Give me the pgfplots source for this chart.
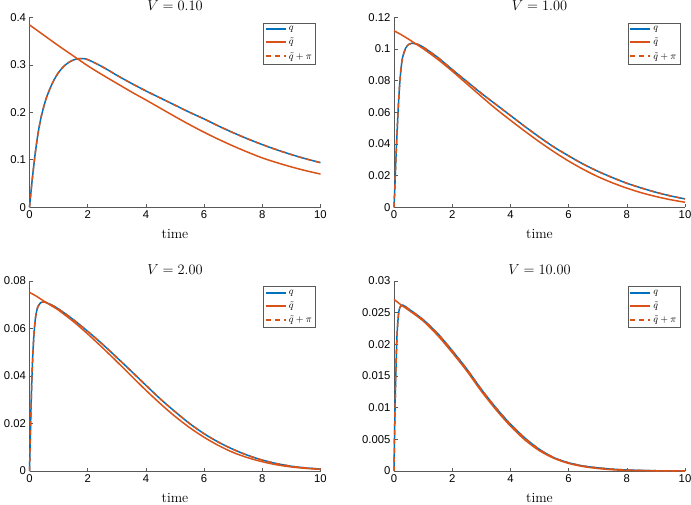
\documentclass[border=0pt]{standalone}
\usepackage{fontspec}
\setsansfont{Liberation Sans}
\usepackage{pgfplots}
\usepackage{pgfplotstable}
\pgfplotsset{compat=1.18}

\definecolor{mblue}{RGB}{0,114,189}
\definecolor{morange}{RGB}{217,83,25}

% V = 0.10
\pgfplotstableread{
t v
0 0
0.05 0.032
0.1 0.062
0.2 0.115
0.3 0.158
0.4 0.190
0.5 0.214
0.6 0.234
0.8 0.263
1.0 0.284
1.2 0.298
1.4 0.307
1.6 0.312
1.8 0.313
2.0 0.311
2.5 0.296
3.0 0.278
3.5 0.261
4.0 0.245
4.5 0.230
5.0 0.215
5.5 0.200
6.0 0.186
6.5 0.171
7.0 0.157
7.5 0.144
8.0 0.132
8.5 0.121
9.0 0.111
9.5 0.102
10 0.094
}\qA
\pgfplotstableread{
t v
0 0.384
0.5 0.362
1 0.340
1.5 0.319
2 0.298
2.5 0.279
3 0.261
3.5 0.243
4 0.226
4.5 0.2085
5 0.191
5.5 0.174
6 0.158
6.5 0.143
7 0.129
7.5 0.116
8 0.104
8.5 0.094
9 0.085
9.5 0.077
10 0.070
}\tA

% V = 1.00
\pgfplotstableread{
t v
0 0
0.03 0.013
0.06 0.028
0.1 0.045
0.15 0.064
0.2 0.079
0.25 0.089
0.3 0.095
0.4 0.1005
0.5 0.1028
0.6 0.1036
0.8 0.1030
1 0.1012
1.5 0.0947
2 0.0870
2.5 0.0795
3 0.0720
3.5 0.0650
4 0.0580
4.5 0.0510
5 0.0443
5.5 0.0380
6 0.0325
6.5 0.0273
7 0.0228
7.5 0.0188
8 0.0152
8.5 0.0122
9 0.0095
9.5 0.0072
10 0.0053
}\qB
\pgfplotstableread{
t v
0 0.1115
0.25 0.1090
0.5 0.1062
0.75 0.1032
1 0.1002
1.5 0.0935
2 0.0860
2.5 0.0780
3 0.0700
3.5 0.0622
4 0.0550
4.5 0.0480
5 0.0413
5.5 0.0350
6 0.0292
6.5 0.0240
7 0.0194
7.5 0.0155
8 0.0121
8.5 0.0092
9 0.0068
9.5 0.0048
10 0.0032
}\tB

% V = 2.00
\pgfplotstableread{
t v
0 0
0.03 0.015
0.06 0.030
0.1 0.045
0.15 0.057
0.2 0.064
0.25 0.0675
0.3 0.0695
0.4 0.0710
0.5 0.0712
0.75 0.0700
1 0.0682
1.5 0.0638
2 0.0588
2.5 0.0535
3 0.0478
3.5 0.0420
4 0.0361
4.5 0.0303
5 0.0250
5.5 0.0200
6 0.0157
6.5 0.0121
7 0.0091
7.5 0.0066
8 0.0046
8.5 0.0031
9 0.0020
9.5 0.0013
10 0.0008
}\qC
\pgfplotstableread{
t v
0 0.0752
0.25 0.0735
0.5 0.0715
0.75 0.0696
1 0.0677
1.5 0.0630
2 0.0577
2.5 0.0520
3 0.0461
3.5 0.0400
4 0.0340
4.5 0.0283
5 0.0230
5.5 0.0183
6 0.0142
6.5 0.0107
7 0.0078
7.5 0.0056
8 0.0039
8.5 0.0026
9 0.0017
9.5 0.0011
10 0.0007
}\tC

% V = 10.00
\pgfplotstableread{
t v
0 0
0.02 0.006
0.05 0.013
0.1 0.021
0.15 0.0245
0.2 0.0258
0.3 0.0262
0.5 0.0256
1 0.0239
1.5 0.0217
2 0.0190
2.5 0.0161
3 0.0129
3.5 0.0100
4 0.0074
4.5 0.0052
5 0.0034
5.5 0.0021
6 0.0013
6.5 0.0008
7 0.0005
7.5 0.0003
8 0.00016
9 0.00004
10 0.00001
}\qD
\pgfplotstableread{
t v
0 0.0271
0.25 0.0262
0.5 0.0254
1 0.0237
1.5 0.0214
2 0.0187
2.5 0.0158
3 0.0126
3.5 0.0097
4 0.0071
4.5 0.0049
5 0.0032
5.5 0.0020
6 0.0012
6.5 0.0007
7 0.0004
7.5 0.0002
8 0.0001
9 0.00003
10 0.00001
}\tD

\pgfplotsset{
  panel/.style={
    scale only axis, width=291pt, height=190pt,
    anchor=south west,
    axis x line=bottom, axis y line=left,
    axis line style={-, black!65, line width=0.6pt},
    every tick/.style={black!65, line width=0.6pt},
    major tick length=3.5pt,
    tick align=inside,
    scaled x ticks=false, scaled y ticks=false,
    xmin=0, xmax=10, xtick={0,2,4,6,8,10},
    xticklabels={0,2,4,6,8,10},
    ymin=0,
    ticklabel style={font=\sffamily\fontsize{11.3}{13}\selectfont, black},
    xlabel={time},
    xlabel style={font=\fontsize{14}{16}\selectfont, at={(axis description cs:0.5,0)}, anchor=base, yshift=-31.5pt},
    every axis title shift=0pt,
    title style={font=\fontsize{14.5}{16}\selectfont, at={(axis description cs:0.5,1)}, anchor=base, yshift=6.7pt},
    legend style={at={(axis description cs:1,1)}, anchor=north east,
      xshift=-4.8pt, yshift=-5.3pt, draw=black!65, line width=0.6pt,
      font=\fontsize{10}{11}\selectfont, inner sep=1.5pt, row sep=2pt,
      cells={anchor=west}},
    legend image code/.code={\draw[#1, line width=2pt] plot coordinates {(0pt,0pt) (10pt,0pt) (20pt,0pt)};},
    clip=false,
  },
  qline/.style={color=mblue, line width=1.5pt, smooth},
  tline/.style={color=morange, line width=1.5pt, smooth},
  pline/.style={color=morange, line width=1.5pt, smooth, dash pattern=on 5pt off 4pt},
}

\begin{document}
\begin{tikzpicture}[x=1pt,y=1pt]
\begin{axis}[panel, at={(29.5pt,296.7pt)}, title={$V = 0.10$},
  ymax=0.4, ytick={0,0.1,0.2,0.3,0.4}, yticklabels={0,0.1,0.2,0.3,0.4}]
  \addplot[qline] table[x=t,y=v] {\qA};
  \addplot[tline] table[x=t,y=v] {\tA};
  \addplot[pline] table[x=t,y=v] {\qA};
  \legend{$q$,$\tilde{q}$,$\tilde{q}+\pi$}
\end{axis}
\begin{axis}[panel, at={(394pt,296.7pt)}, title={$V = 1.00$},
  ymax=0.12, ytick={0,0.02,0.04,0.06,0.08,0.1,0.12}, yticklabels={0,0.02,0.04,0.06,0.08,0.1,0.12}]
  \addplot[qline] table[x=t,y=v] {\qB};
  \addplot[tline] table[x=t,y=v] {\tB};
  \addplot[pline] table[x=t,y=v] {\qB};
  \legend{$q$,$\tilde{q}$,$\tilde{q}+\pi$}
\end{axis}
\begin{axis}[panel, at={(29.5pt,33pt)}, title={$V = 2.00$},
  ymax=0.08, ytick={0,0.02,0.04,0.06,0.08}, yticklabels={0,0.02,0.04,0.06,0.08}]
  \addplot[qline] table[x=t,y=v] {\qC};
  \addplot[tline] table[x=t,y=v] {\tC};
  \addplot[pline] table[x=t,y=v] {\qC};
  \legend{$q$,$\tilde{q}$,$\tilde{q}+\pi$}
\end{axis}
\begin{axis}[panel, at={(394pt,33pt)}, title={$V = 10.00$},
  ymax=0.03, ytick={0,0.005,0.01,0.015,0.02,0.025,0.03}, yticklabels={0,0.005,0.01,0.015,0.02,0.025,0.03}]
  \addplot[qline] table[x=t,y=v] {\qD};
  \addplot[tline] table[x=t,y=v] {\tD};
  \addplot[pline] table[x=t,y=v] {\qD};
  \legend{$q$,$\tilde{q}$,$\tilde{q}+\pi$}
\end{axis}
\pgfresetboundingbox
\useasboundingbox (0,0) rectangle (691,504);
\end{tikzpicture}
\end{document}
